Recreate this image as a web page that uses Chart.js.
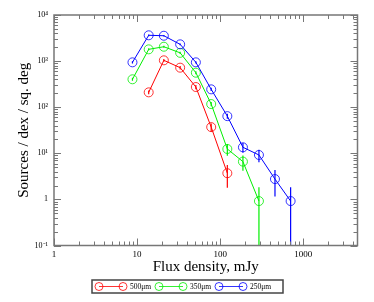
<!DOCTYPE html>
<html>
<head>
<meta charset="utf-8">
<script src="https://cdn.jsdelivr.net/npm/chart.js@4"></script>
<style>
  html, body { margin: 0; padding: 0; background: #fff; }
  #wrap { width: 374px; height: 302px; }
</style>
</head>
<body>
<div id="wrap"><canvas id="chart" width="374" height="302"></canvas></div>
<script>
// flux bins (mJy)
const flux = [8.8, 13.8, 21, 33, 51, 78, 122, 188, 293, 457, 705];

const counts250 = [940, 3630, 3550, 2310, 940, 244, 64, 13.5, 9.2, 2.76, 0.92];
const err250 = [50, 150, 150, 100, 50, 20, 8, 3.2, 2.8, 1.6, 0.92];

const counts350 = [403, 1800, 2050, 1510, 560, 117, 12.4, 6.6, 0.92];
const err350 = [30, 90, 100, 80, 40, 12, 3.5, 2.4, 0.92];

const counts500 = [210, 1040, 720, 274, 37, 3.7];
const err500 = [20, 70, 60, 30, 7.5, 1.9];
const flux500 = flux.slice(1, 7);

const xTicks = [1, 10, 100, 1000];
const yTicks = [0.1, 1, 10, 100, 1000, 10000];
const yLabels = ['10⁻¹', '1', '10¹', '10²', '10³', '10⁴'];

const serif = '"Liberation Serif", "Times New Roman", serif';
const frameColor = '#777';

function pts(xs, ys) {
  return ys.map((y, i) => ({ x: xs[i], y: y }));
}

function series(label, color, xs, ys, errs) {
  return {
    label: label,
    data: pts(xs, ys),
    errors: errs,
    borderColor: color,
    backgroundColor: 'rgba(0,0,0,0)',
    pointBorderColor: color,
    pointBackgroundColor: 'rgba(0,0,0,0)',
    pointRadius: 4.5,
    pointBorderWidth: 0.8,
    borderWidth: 1,
    showLine: true,
    tension: 0
  };
}

// vertical error bars, clipped to the plot area
const errorBars = {
  id: 'errorBars',
  afterDatasetsDraw(chart) {
    const { ctx, chartArea } = chart;
    const xs = chart.scales.x, ys = chart.scales.y;
    ctx.save();
    ctx.beginPath();
    ctx.rect(chartArea.left, chartArea.top, chartArea.right - chartArea.left, chartArea.bottom - chartArea.top);
    ctx.clip();
    chart.data.datasets.forEach((ds) => {
      ctx.strokeStyle = ds.borderColor;
      ctx.lineWidth = 1.2;
      ds.data.forEach((p, i) => {
        const e = ds.errors[i];
        const px = xs.getPixelForValue(p.x);
        const top = ys.getPixelForValue(p.y + e);
        const low = p.y - e;
        const bot = low > 0 ? ys.getPixelForValue(low) : chartArea.bottom;
        ctx.beginPath();
        ctx.moveTo(px, top);
        ctx.lineTo(px, bot);
        ctx.stroke();
      });
    });
    ctx.restore();
  }
};

// frame with inward major/minor ticks on all four sides
const frame = {
  id: 'frame',
  afterDraw(chart) {
    const { ctx, chartArea: a } = chart;
    const xs = chart.scales.x, ys = chart.scales.y;
    ctx.save();
    ctx.strokeStyle = frameColor;
    ctx.lineWidth = 1;
    const major = 7, minor = 4;
    for (let d = 0; d <= 4; d++) {
      for (let m = 1; m <= 9; m++) {
        const v = m * Math.pow(10, d);
        if (v > xs.max) break;
        const px = Math.round(xs.getPixelForValue(v)) + 0.5;
        const len = m === 1 ? major : minor;
        ctx.beginPath();
        ctx.moveTo(px, a.bottom); ctx.lineTo(px, a.bottom - len);
        ctx.moveTo(px, a.top); ctx.lineTo(px, a.top + len);
        ctx.stroke();
      }
    }
    for (let d = -1; d <= 4; d++) {
      for (let m = 1; m <= 9; m++) {
        const v = m * Math.pow(10, d);
        if (v > ys.max * 1.0001) break;
        const py = Math.round(ys.getPixelForValue(v)) + 0.5;
        const len = m === 1 ? major : minor;
        ctx.beginPath();
        ctx.moveTo(a.left, py); ctx.lineTo(a.left + len, py);
        ctx.moveTo(a.right, py); ctx.lineTo(a.right - len, py);
        ctx.stroke();
      }
    }
    ctx.lineWidth = 1.5;
    ctx.strokeRect(a.left, a.top, a.right - a.left, a.bottom - a.top);
    ctx.restore();
  }
};

// boxed legend under the axis title: line with circles at both ends
const boxLegend = {
  id: 'boxLegend',
  afterDraw(chart) {
    const { ctx } = chart;
    const order = [2, 1, 0];
    const left = 92, top = 280, w = 191, h = 13;
    ctx.save();
    ctx.strokeStyle = '#444';
    ctx.lineWidth = 1.5;
    ctx.strokeRect(left, top, w, h);
    ctx.font = '7.5px ' + serif;
    ctx.textBaseline = 'middle';
    ctx.fillStyle = '#000';
    const cy = top + h / 2;
    order.forEach((k, j) => {
      const ds = chart.data.datasets[k];
      const x0 = left + 7 + j * 60, x1 = x0 + 24;
      ctx.strokeStyle = ds.borderColor;
      ctx.lineWidth = 0.8;
      ctx.beginPath(); ctx.moveTo(x0, cy); ctx.lineTo(x1, cy); ctx.stroke();
      [x0, x1].forEach((cx) => {
        ctx.beginPath(); ctx.arc(cx, cy, 4, 0, Math.PI * 2); ctx.stroke();
      });
      ctx.fillText(ds.label, x1 + 7, cy + 0.5);
    });
    ctx.restore();
  }
};

new Chart(document.getElementById('chart'), {
  type: 'scatter',
  data: {
    datasets: [
      series('250μm', '#0000ff', flux, counts250, err250),
      series('350μm', '#00ee00', flux, counts350, err350),
      series('500μm', '#ff0000', flux500, counts500, err500)
    ]
  },
  options: {
    responsive: false,
    animation: false,
    layout: { padding: { left: 0, top: 15, right: 16.5, bottom: 0 } },
    plugins: { legend: { display: false }, tooltip: { enabled: false } },
    scales: {
      x: {
        type: 'logarithmic',
        min: 1,
        max: 4500,
        grid: { display: false, drawTicks: false },
        border: { display: false },
        afterBuildTicks(scale) { scale.ticks = xTicks.map((v) => ({ value: v })); },
        afterFit(scale) { scale.height = 56.5; },
        ticks: {
          padding: 4,
          color: '#000',
          font: { family: serif, size: 9 },
          callback: (v) => String(v)
        },
        title: {
          display: true,
          text: 'Flux density, mJy',
          color: '#000',
          font: { family: serif, size: 15 },
          padding: { top: 0, bottom: 26 }
        }
      },
      y: {
        type: 'logarithmic',
        min: 0.1,
        max: 10000,
        grid: { display: false, drawTicks: false },
        border: { display: false },
        afterBuildTicks(scale) { scale.ticks = yTicks.map((v) => ({ value: v })); },
        afterFit(scale) { scale.width = 54; },
        ticks: {
          padding: 6,
          color: '#000',
          font: { family: serif, size: 8 },
          callback: (v) => yLabels[yTicks.indexOf(v)]
        },
        title: {
          display: true,
          text: 'Sources / dex / sq. deg',
          color: '#000',
          font: { family: serif, size: 15 },
          padding: { top: 15, bottom: 0 }
        }
      }
    }
  },
  plugins: [errorBars, frame, boxLegend]
});
</script>
</body>
</html>
